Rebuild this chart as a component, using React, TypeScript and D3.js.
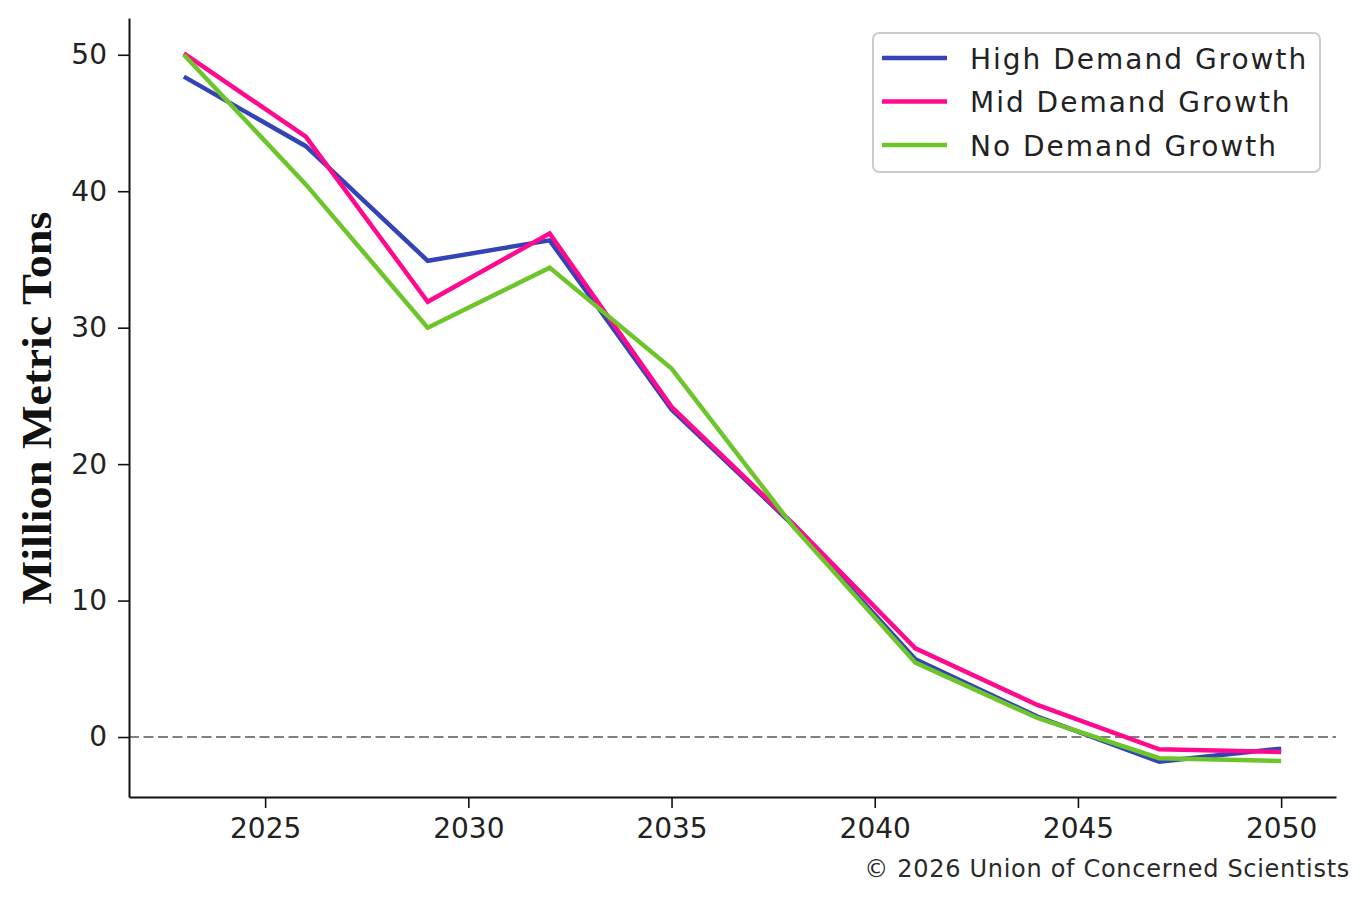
import { useEffect, useRef } from 'react';
import * as d3 from 'd3';

const years = [2023, 2026, 2029, 2032, 2035, 2038, 2041, 2044, 2047, 2050];
const highDemand = [48.4, 43.3, 34.9, 36.4, 24.0, 15.5, 5.7, 1.5, -1.8, -0.85];
const midDemand = [50.1, 44.0, 31.9, 36.9, 24.2, 15.6, 6.5, 2.35, -0.9, -1.1];
const noDemand = [50.0, 40.5, 30.0, 34.4, 27.0, 15.4, 5.45, 1.4, -1.55, -1.75];

const seriesNames = ['High Demand Growth', 'Mid Demand Growth', 'No Demand Growth'];
const seriesColors = ['#3444b5', '#ff0a8f', '#6dc52b'];
const xTicks = [2025, 2030, 2035, 2040, 2045, 2050];
const yTicks = [0, 10, 20, 30, 40, 50];

const W = 1370;
const H = 900;
const SANS = '"DejaVu Sans", sans-serif';

export default function App() {
  const svgRef = useRef<SVGSVGElement>(null);

  useEffect(() => {
    if (!svgRef.current) return;
    const root = d3.select(svgRef.current);
    root.selectAll('*').remove();

    const margin = { top: 18, right: 34, bottom: 103, left: 129 };
    const plotW = W - margin.left - margin.right;
    const plotH = H - margin.top - margin.bottom;

    const svg = root.append('g').attr('transform', `translate(${margin.left},${margin.top})`);

    // matplotlib-like 5% padding on both axes
    const xExt = d3.extent(years) as [number, number];
    const xPad = (xExt[1] - xExt[0]) * 0.05;
    const allVals = [...highDemand, ...midDemand, ...noDemand];
    const yExt = d3.extent(allVals) as [number, number];
    const yPad = (yExt[1] - yExt[0]) * 0.05;

    const x = d3.scaleLinear().domain([xExt[0] - xPad, xExt[1] + xPad]).range([0, plotW]);
    const y = d3.scaleLinear().domain([yExt[0] - yPad, yExt[1] + yPad]).range([plotH, 0]);

    // zero reference line
    svg.append('line')
      .attr('x1', 0)
      .attr('x2', plotW)
      .attr('y1', y(0))
      .attr('y2', y(0))
      .attr('stroke', '#808080')
      .attr('stroke-width', 2)
      .attr('stroke-dasharray', '10,4.5');

    // lines
    const line = d3.line<number>()
      .x((_, i) => x(years[i]))
      .y(d => y(d));

    [highDemand, midDemand, noDemand].forEach((vals, i) => {
      svg.append('path')
        .datum(vals)
        .attr('fill', 'none')
        .attr('stroke', seriesColors[i])
        .attr('stroke-width', 4.5)
        .attr('d', line);
    });

    // X axis
    const xAxis = svg.append('g')
      .attr('transform', `translate(0,${plotH})`)
      .call(d3.axisBottom(x).tickValues(xTicks).tickFormat(d => String(d)).tickSize(11).tickPadding(10).tickSizeOuter(0));
    xAxis.select('.domain').attr('stroke', '#111').attr('stroke-width', 2);
    xAxis.selectAll('.tick line').attr('stroke', '#111').attr('stroke-width', 1.6);
    xAxis.selectAll('.tick text')
      .attr('fill', '#222')
      .style('font-family', SANS)
      .style('font-size', '28px');

    // Y axis
    const yAxis = svg.append('g')
      .call(d3.axisLeft(y).tickValues(yTicks).tickSize(11).tickPadding(11).tickSizeOuter(0));
    yAxis.select('.domain').attr('stroke', '#111').attr('stroke-width', 2);
    yAxis.selectAll('.tick line').attr('stroke', '#111').attr('stroke-width', 1.6);
    yAxis.selectAll('.tick text')
      .attr('fill', '#222')
      .style('font-family', SANS)
      .style('font-size', '28px');

    // Y label
    root.append('text')
      .attr('transform', `translate(51, 408) rotate(-90)`)
      .attr('text-anchor', 'middle')
      .attr('textLength', 393)
      .attr('lengthAdjust', 'spacingAndGlyphs')
      .style('font-family', '"Liberation Serif", serif')
      .style('font-weight', 'bold')
      .style('font-size', '42px')
      .attr('fill', '#111')
      .text('Million Metric Tons');

    // Legend
    const legend = root.append('g').attr('transform', 'translate(873,33)');
    legend.append('rect')
      .attr('width', 447)
      .attr('height', 139)
      .attr('rx', 6)
      .attr('fill', 'rgba(255,255,255,0.85)')
      .attr('stroke', '#cccccc')
      .attr('stroke-width', 2);
    seriesNames.forEach((name, i) => {
      const rowY = 25 + i * 43.5;
      legend.append('line')
        .attr('x1', 9)
        .attr('x2', 74)
        .attr('y1', rowY)
        .attr('y2', rowY)
        .attr('stroke', seriesColors[i])
        .attr('stroke-width', 4.5);
      legend.append('text')
        .attr('x', 97)
        .attr('y', rowY + 10.5)
        .attr('fill', '#222')
        .style('font-family', SANS)
        .style('font-size', '28px')
        .style('letter-spacing', '2px')
        .text(name);
    });

    // credit
    root.append('text')
      .attr('x', 1350)
      .attr('y', 877)
      .attr('text-anchor', 'end')
      .attr('fill', '#2a2a2a')
      .style('font-family', SANS)
      .style('font-size', '24px')
      .style('letter-spacing', '0.7px')
      .text('© 2026 Union of Concerned Scientists');
  }, []);

  return (
    <div style={{ position: 'absolute', left: 0, top: 0, background: '#fff' }}>
      <svg ref={svgRef} width={W} height={H} style={{ display: 'block' }}></svg>
    </div>
  );
}
